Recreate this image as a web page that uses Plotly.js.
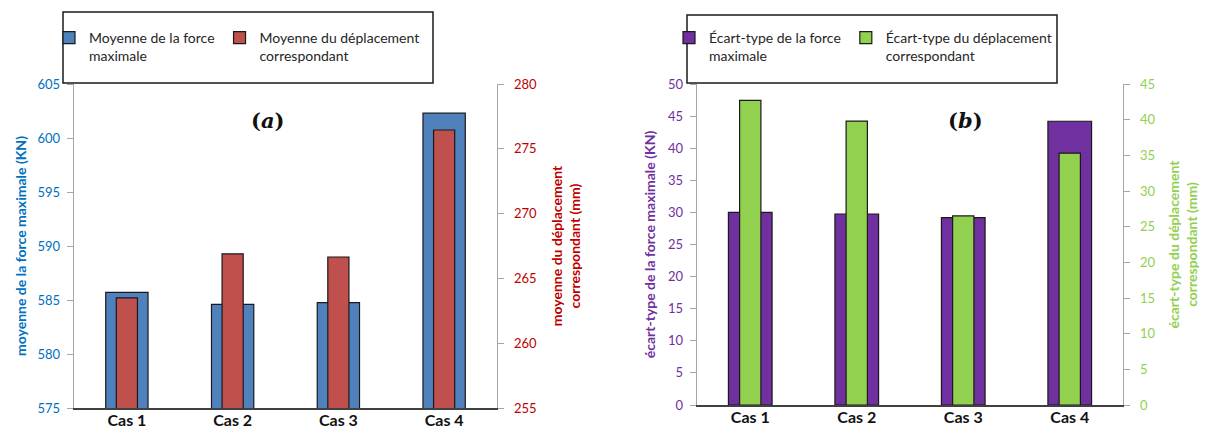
<!DOCTYPE html>
<html>
<head>
<meta charset="utf-8">
<script src="https://cdn.plot.ly/plotly-3.0.1.min.js"></script>
<style>html,body{margin:0;padding:0;background:#fff;}#chart{width:1211px;height:431px;}</style>
</head>
<body>
<div id="chart"></div>
<script>
const categories = ['Cas 1', 'Cas 2', 'Cas 3', 'Cas 4'];
const forceMean = [585.7, 584.6, 584.75, 602.3];
const dispMean = [263.5, 266.9, 266.65, 276.45];
const forceStd = [30.0, 29.75, 29.2, 44.2];
const dispStd = [42.7, 39.8, 26.5, 35.3];
const seriesNames = [
  'Moyenne de la force<br>maximale',
  'Moyenne du déplacement<br>correspondant',
  'Écart-type de la force<br>maximale',
  'Écart-type du déplacement<br>correspondant'
];

const W = 1211, H = 431;
const px = v => v / W;
const py = v => (H - v) / H;
const FONT = 'Lato, "Open Sans", sans-serif';
const edge = {color: '#1a1a1a', width: 1.2};

const traces = [
  {type: 'bar', x: categories, y: forceMean, name: seriesNames[0], xaxis: 'x', yaxis: 'y',
   width: 0.4, marker: {color: '#4F81BD', line: edge}, legend: 'legend'},
  {type: 'bar', x: categories, y: dispMean, name: seriesNames[1], xaxis: 'x', yaxis: 'y2',
   width: 0.2, marker: {color: '#C0504D', line: edge}, legend: 'legend'},
  {type: 'bar', x: categories, y: forceStd, name: seriesNames[2], xaxis: 'x2', yaxis: 'y3',
   width: 0.41, marker: {color: '#7030A0', line: edge}, legend: 'legend2'},
  {type: 'bar', x: categories, y: dispStd, name: seriesNames[3], xaxis: 'x2', yaxis: 'y4',
   width: 0.2, marker: {color: '#92D050', line: edge}, legend: 'legend2'}
];

const yBase = {
  showgrid: false, zeroline: false, showline: true, linecolor: '#A6A6A6', linewidth: 1.3,
  ticks: 'outside', ticklen: 6, tickcolor: '#A6A6A6', dtick: 5, ticklabelstandoff: 4,
  automargin: false
};
const xBase = {
  showgrid: false, zeroline: false, showline: true, linecolor: '#404040', linewidth: 1.5,
  ticks: '', ticklabelstandoff: -3,
  tickfont: {family: FONT, size: 16, color: '#111', weight: 'bold'},
  automargin: false
};

const layout = {
  width: W, height: H,
  margin: {l: 0, r: 0, t: 0, b: 0},
  paper_bgcolor: '#fff', plot_bgcolor: '#fff',
  barmode: 'overlay',
  font: {family: FONT},
  showlegend: true,
  xaxis: Object.assign({}, xBase, {domain: [px(74), px(497)], anchor: 'y', range: [-0.5, 3.5]}),
  yaxis: Object.assign({}, yBase, {domain: [py(408), py(84)], anchor: 'x', range: [575, 605],
    tickfont: {family: FONT, size: 13, color: '#0070C0'},
    title: {text: 'moyenne de la force maximale (KN)', standoff: 7,
      font: {family: FONT, size: 14, color: '#0070C0', weight: 'bold'}}}),
  yaxis2: Object.assign({}, yBase, {overlaying: 'y', side: 'right', anchor: 'x', range: [255, 280],
    tickfont: {family: FONT, size: 13, color: '#C00000'}, ticklabelstandoff: 7,
    title: {text: 'moyenne du déplacement<br>correspondant (mm)', standoff: 16,
      font: {family: FONT, size: 14, color: '#C00000', weight: 'bold'}}}),
  xaxis2: Object.assign({}, xBase, {domain: [px(697), px(1123)], anchor: 'y3', range: [-0.5, 3.5]}),
  yaxis3: Object.assign({}, yBase, {domain: [py(405), py(84)], anchor: 'x2', range: [0, 50],
    tickfont: {family: FONT, size: 13, color: '#7030A0'},
    title: {text: 'écart-type de la force maximale (KN)', standoff: 9,
      font: {family: FONT, size: 14, color: '#7030A0', weight: 'bold'}}}),
  yaxis4: Object.assign({}, yBase, {overlaying: 'y3', side: 'right', anchor: 'x2', range: [0, 45],
    tickfont: {family: FONT, size: 13, color: '#92D050'}, ticklabelstandoff: 7,
    title: {text: 'écart-type du déplacement<br>correspondant (mm)', standoff: 14,
      font: {family: FONT, size: 14, color: '#92D050', weight: 'bold'}}}),
  legend: {orientation: 'h', x: px(49), y: py(22), xanchor: 'left', yanchor: 'top',
    bgcolor: 'rgba(0,0,0,0)', borderwidth: 0, valign: 'top',
    font: {family: FONT, size: 14, color: '#262626'}},
  legend2: {orientation: 'h', x: px(669), y: py(22), xanchor: 'left', yanchor: 'top',
    bgcolor: 'rgba(0,0,0,0)', borderwidth: 0, valign: 'top',
    font: {family: FONT, size: 14, color: '#262626'}},
  shapes: [
    {type: 'rect', xref: 'paper', yref: 'paper', x0: px(63), x1: px(433), y0: py(83), y1: py(12),
     line: {color: '#1a1a1a', width: 1.5}, fillcolor: 'rgba(0,0,0,0)', layer: 'above'},
    {type: 'rect', xref: 'paper', yref: 'paper', x0: px(687), x1: px(1057), y0: py(83), y1: py(15),
     line: {color: '#1a1a1a', width: 1.5}, fillcolor: 'rgba(0,0,0,0)', layer: 'above'}
  ],
  annotations: [
    {xref: 'paper', yref: 'paper', x: px(267), y: py(121), xanchor: 'center', yanchor: 'middle',
     text: '<b>(<i>a</i>)</b>', showarrow: false,
     font: {family: '"DejaVu Serif", serif', size: 21, color: '#111'}},
    {xref: 'paper', yref: 'paper', x: px(965), y: py(121), xanchor: 'center', yanchor: 'middle',
     text: '<b>(<i>b</i>)</b>', showarrow: false,
     font: {family: '"DejaVu Serif", serif', size: 21, color: '#111'}}
  ]
};

Plotly.newPlot('chart', traces, layout, {displayModeBar: false, staticPlot: true});
</script>
</body>
</html>
